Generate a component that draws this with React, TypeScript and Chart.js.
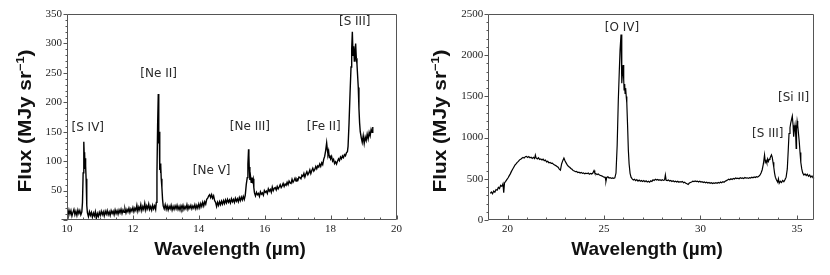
import React, { useEffect, useRef } from "react";
import { Chart, registerables } from "chart.js";

Chart.register(...registerables);

// ---------------- Left panel: 10–20 µm spectrum ----------------
const leftWavelength = [
  10.00, 10.03, 10.06, 10.09, 10.12, 10.15, 10.18, 10.21, 10.24, 10.27, 10.30, 10.33, 10.36, 10.39, 10.42, 10.45,
  10.47, 10.49, 10.51, 10.52, 10.53, 10.54, 10.55, 10.56, 10.57, 10.58, 10.60, 10.62, 10.65, 10.68, 10.71, 10.74,
  10.77, 10.80, 10.83, 10.86, 10.89, 10.92, 10.95, 10.98, 11.01, 11.04, 11.07, 11.10, 11.13, 11.16, 11.19, 11.22,
  11.25, 11.28, 11.31, 11.34, 11.37, 11.40, 11.43, 11.46, 11.49, 11.52, 11.55, 11.58, 11.61, 11.64, 11.67, 11.70,
  11.73, 11.76, 11.79, 11.82, 11.85, 11.88, 11.91, 11.94, 11.97, 12.00, 12.03, 12.06, 12.09, 12.12, 12.15, 12.18,
  12.21, 12.24, 12.27, 12.30, 12.33, 12.36, 12.39, 12.42, 12.45, 12.48, 12.51, 12.54, 12.57, 12.60, 12.63, 12.66,
  12.69, 12.71, 12.73, 12.75, 12.77, 12.78, 12.79, 12.80, 12.81, 12.82, 12.83, 12.84, 12.85, 12.86, 12.88, 12.90,
  12.92, 12.95, 12.98, 13.01, 13.04, 13.07, 13.10, 13.13, 13.16, 13.19, 13.22, 13.25, 13.28, 13.31, 13.34, 13.37,
  13.40, 13.43, 13.46, 13.49, 13.52, 13.55, 13.58, 13.61, 13.64, 13.67, 13.70, 13.73, 13.76, 13.79, 13.82, 13.85,
  13.88, 13.91, 13.94, 13.97, 14.00, 14.03, 14.06, 14.09, 14.12, 14.15, 14.18, 14.21, 14.24, 14.27, 14.30, 14.33,
  14.36, 14.39, 14.42, 14.45, 14.48, 14.51, 14.54, 14.57, 14.60, 14.63, 14.66, 14.69, 14.72, 14.75, 14.78, 14.81,
  14.84, 14.87, 14.90, 14.93, 14.96, 14.99, 15.02, 15.05, 15.08, 15.11, 15.14, 15.17, 15.20, 15.23, 15.26, 15.29,
  15.32, 15.35, 15.38, 15.41, 15.44, 15.47, 15.49, 15.51, 15.52, 15.53, 15.55, 15.57, 15.59, 15.61, 15.63, 15.65,
  15.67, 15.69, 15.72, 15.75, 15.78, 15.81, 15.84, 15.87, 15.90, 15.93, 15.96, 15.99, 16.02, 16.05, 16.08, 16.11,
  16.14, 16.17, 16.20, 16.23, 16.26, 16.29, 16.32, 16.35, 16.38, 16.41, 16.44, 16.47, 16.50, 16.53, 16.56, 16.59,
  16.62, 16.65, 16.68, 16.71, 16.74, 16.77, 16.80, 16.83, 16.86, 16.89, 16.92, 16.95, 16.98, 17.01, 17.04, 17.07,
  17.10, 17.13, 17.16, 17.19, 17.22, 17.25, 17.28, 17.31, 17.34, 17.37, 17.40, 17.43, 17.46, 17.49, 17.52, 17.55,
  17.58, 17.61, 17.64, 17.67, 17.70, 17.73, 17.76, 17.79, 17.82, 17.85, 17.88, 17.90, 17.92, 17.94, 17.96, 17.98,
  18.00, 18.03, 18.06, 18.09, 18.12, 18.15, 18.18, 18.21, 18.24, 18.27, 18.30, 18.33, 18.36, 18.39, 18.42, 18.45,
  18.48, 18.51, 18.53, 18.56, 18.59, 18.62, 18.64, 18.66, 18.68, 18.70, 18.72, 18.74, 18.76, 18.78, 18.80, 18.82,
  18.84, 18.86, 18.88, 18.90, 18.93, 18.96, 18.99, 19.02, 19.05, 19.08, 19.11, 19.14, 19.17, 19.20, 19.23, 19.26,
  19.28,
];
const leftFlux = [
  14, 8, 17, 10, 16, 7, 13, 18, 9, 15, 8, 17, 11, 16, 9, 14,
  30, 80, 133, 115, 95, 112, 88, 105, 92, 70, 25, 12, 6, 14, 8, 13,
  5, 12, 7, 14, 3, 11, 6, 13, 8, 15, 9, 14, 7, 15, 10, 16,
  9, 14, 8, 16, 11, 15, 9, 17, 11, 16, 10, 17, 12, 18, 11, 17,
  13, 19, 12, 18, 14, 20, 13, 19, 15, 21, 14, 20, 16, 25, 15, 22,
  17, 26, 16, 23, 18, 28, 17, 24, 19, 27, 18, 23, 17, 25, 19, 24,
  18, 30, 80, 160, 214, 190, 130, 150, 100, 85, 96, 80, 92, 70, 55, 35,
  24, 19, 26, 18, 24, 17, 23, 19, 25, 17, 23, 18, 24, 19, 25, 18,
  23, 17, 24, 19, 25, 18, 23, 19, 26, 18, 24, 20, 25, 19, 24, 20,
  26, 19, 25, 20, 27, 21, 28, 23, 30, 24, 31, 27, 35, 37, 41, 43,
  38, 43, 37, 41, 33, 30, 23, 30, 25, 31, 26, 32, 27, 33, 28, 34,
  29, 35, 30, 34, 29, 36, 31, 35, 30, 37, 32, 36, 31, 38, 33, 39,
  34, 40, 35, 42, 60, 72, 95, 120, 110, 90, 68, 74, 64, 72, 66, 70,
  55, 46, 41, 47, 43, 45, 40, 48, 44, 46, 42, 50, 47, 49, 45, 53,
  49, 52, 47, 56, 50, 54, 55, 51, 57, 53, 56, 60, 55, 58, 62, 57,
  61, 59, 64, 60, 66, 63, 62, 69, 64, 67, 71, 66, 70, 68, 73, 72,
  70, 76, 74, 79, 73, 78, 82, 77, 80, 85, 79, 84, 88, 83, 86, 91,
  87, 92, 90, 95, 91, 97, 94, 103, 108, 118, 131, 120, 112, 117, 106, 110,
  104, 108, 100, 103, 96, 99, 95, 100, 104, 101, 107, 104, 109, 106, 111, 109,
  114, 116, 125, 165, 215, 260, 290, 320, 280, 295, 270, 285, 300, 275, 265, 245,
  225, 190, 165, 150, 140, 132, 143, 130, 141, 135, 146, 138, 149, 143, 154, 149,
  158,
];
const leftTicksX = [10, 12, 14, 16, 18, 20];
const leftTicksY = [50, 100, 150, 200, 250, 300, 350];
const leftLineNames = ["[S IV]", "[Ne II]", "[Ne V]", "[Ne III]", "[Fe II]", "[S III]"];
const leftLineWavelength = [10.63, 12.78, 14.39, 15.55, 17.79, 18.73];
const leftLineFlux = [156, 248, 83, 158, 158, 336];

// ---------------- Right panel: 19–36 µm spectrum ----------------
const rightWavelength = [
  19.10, 19.16, 19.22, 19.28, 19.34, 19.40, 19.46, 19.52, 19.58, 19.64, 19.70, 19.76, 19.80, 19.84, 19.90, 19.96,
  20.02, 20.08, 20.14, 20.20, 20.26, 20.32, 20.38, 20.44, 20.50, 20.56, 20.62, 20.68, 20.74, 20.80, 20.86, 20.92,
  20.98, 21.04, 21.10, 21.16, 21.22, 21.28, 21.34, 21.40, 21.44, 21.48, 21.54, 21.60, 21.66, 21.72, 21.78, 21.84,
  21.90, 21.96, 22.02, 22.08, 22.14, 22.20, 22.26, 22.32, 22.38, 22.44, 22.50, 22.56, 22.62, 22.68, 22.74, 22.80,
  22.86, 22.92, 22.98, 23.04, 23.10, 23.16, 23.22, 23.28, 23.34, 23.40, 23.46, 23.52, 23.58, 23.64, 23.70, 23.76,
  23.82, 23.88, 23.94, 24.00, 24.06, 24.12, 24.18, 24.24, 24.30, 24.36, 24.42, 24.48, 24.52, 24.58, 24.64, 24.70,
  24.76, 24.82, 24.88, 24.94, 25.00, 25.06, 25.10, 25.14, 25.20, 25.26, 25.32, 25.38, 25.44, 25.50, 25.56, 25.62,
  25.68, 25.74, 25.79, 25.83, 25.88, 25.91, 25.93, 25.96, 25.99, 26.02, 26.04, 26.07, 26.09, 26.12, 26.15, 26.18,
  26.22, 26.26, 26.30, 26.35, 26.40, 26.46, 26.52, 26.58, 26.64, 26.70, 26.76, 26.82, 26.88, 26.94, 27.00, 27.06,
  27.12, 27.18, 27.24, 27.30, 27.36, 27.42, 27.48, 27.54, 27.60, 27.66, 27.72, 27.78, 27.84, 27.90, 27.96, 28.02,
  28.08, 28.14, 28.18, 28.22, 28.28, 28.34, 28.40, 28.46, 28.52, 28.58, 28.64, 28.70, 28.76, 28.82, 28.88, 28.94,
  29.00, 29.06, 29.12, 29.18, 29.24, 29.30, 29.36, 29.42, 29.48, 29.54, 29.60, 29.66, 29.72, 29.78, 29.84, 29.90,
  29.96, 30.02, 30.08, 30.14, 30.20, 30.26, 30.32, 30.38, 30.44, 30.50, 30.56, 30.62, 30.68, 30.74, 30.80, 30.86,
  30.92, 30.98, 31.04, 31.10, 31.16, 31.22, 31.28, 31.34, 31.40, 31.46, 31.52, 31.58, 31.64, 31.70, 31.76, 31.82,
  31.88, 31.94, 32.00, 32.06, 32.12, 32.18, 32.24, 32.30, 32.36, 32.42, 32.48, 32.54, 32.60, 32.66, 32.72, 32.78,
  32.84, 32.90, 32.96, 33.02, 33.08, 33.14, 33.20, 33.26, 33.32, 33.36, 33.40, 33.44, 33.48, 33.52, 33.56, 33.60,
  33.64, 33.68, 33.72, 33.76, 33.80, 33.84, 33.88, 33.94, 34.00, 34.04, 34.08, 34.14, 34.20, 34.26, 34.32, 34.38,
  34.44, 34.50, 34.55, 34.59, 34.64, 34.68, 34.72, 34.76, 34.80, 34.83, 34.86, 34.90, 34.93, 34.96, 34.98, 35.01,
  35.04, 35.08, 35.12, 35.16, 35.20, 35.25, 35.30, 35.36, 35.42, 35.48, 35.54, 35.60, 35.66, 35.72, 35.78, 35.84,
  35.88,
];
const rightFlux = [
  324, 340, 318, 352, 338, 370, 362, 395, 380, 420, 408, 440, 330, 450, 468, 490,
  510, 535, 560, 590, 615, 640, 665, 680, 700, 712, 730, 738, 750, 758, 752, 768,
  772, 760, 770, 755, 762, 748, 760, 745, 788, 752, 740, 755, 735, 742, 728, 738,
  720, 728, 705, 712, 695, 700, 688, 690, 675, 668, 660, 650, 640, 618, 605, 680,
  720, 752, 715, 690, 665, 650, 640, 625, 615, 600, 595, 586, 590, 575, 580, 570,
  578, 566, 572, 560, 568, 562, 570, 556, 566, 558, 570, 600, 572, 560, 552, 558,
  545, 540, 535, 528, 520, 518, 470, 516, 525, 510, 515, 505, 510, 506, 512, 570,
  900, 1456, 1800, 2063, 2250, 1850, 1659, 1800, 1881, 1700, 1578, 1650, 1537, 1600, 1500, 1420,
  1150, 850, 680, 566, 520, 500, 485, 495, 478, 490, 472, 485, 470, 480, 468, 478,
  465, 475, 462, 470, 458, 475, 468, 488, 480, 495, 485, 492, 482, 490, 478, 488,
  480, 486, 546, 482, 478, 486, 472, 480, 468, 476, 465, 472, 462, 470, 458, 466,
  460, 468, 452, 458, 445, 440, 432, 448, 455, 462, 470, 465, 474, 466, 472, 462,
  470, 460, 466, 455, 462, 452, 458, 448, 455, 445, 452, 442, 450, 445, 452, 446,
  455, 448, 460, 452, 465, 458, 470, 478, 486, 495, 488, 500, 492, 505, 498, 510,
  502, 508, 500, 512, 505, 510, 502, 515, 508, 512, 505, 515, 510, 520, 512, 522,
  515, 525, 520, 530, 545, 570, 610, 680, 790, 700, 720, 690, 740, 710, 735, 745,
  770, 790, 760, 700, 640, 570, 520, 485, 460, 500, 445, 470, 455, 480, 465, 490,
  520, 620, 850, 1050, 1120, 1180, 1220, 1260, 1150, 1010, 1080, 1150, 1060, 870, 1100, 1200,
  1150, 1050, 950, 820, 700, 620, 570, 545, 560, 540, 555, 530, 545, 520, 535, 510,
  515,
];
const rightTicksX = [20, 25, 30, 35];
const rightTicksY = [0, 500, 1000, 1500, 2000, 2500];
const rightLineNames = ["[O IV]", "[S III]", "[Si II]"];
const rightLineWavelength = [25.93, 33.49, 34.83];
const rightLineFlux = [2330, 1044, 1487];

// ---------------- helpers / plugins ----------------
const TICK_FONT = { family: "'Liberation Serif', 'Times New Roman', serif", size: 11 };
const TITLE_FAMILY = "'Liberation Sans', Arial, Helvetica, sans-serif";

const decorPlugin = {
  id: "decor",
  afterDraw(chart: any, _args: any, opts: any) {
    const { ctx, chartArea: a, scales } = chart;
    const x = scales.x;
    const y = scales.y;
    ctx.save();
    // frame
    ctx.strokeStyle = "#555";
    ctx.lineWidth = 1;
    const L = Math.round(a.left) + 0.5;
    const R = Math.round(a.right) - 0.5;
    const T = Math.round(a.top) + 0.5;
    const B = Math.round(a.bottom) - 0.5;
    ctx.beginPath();
    ctx.moveTo(L, T);
    ctx.lineTo(R, T);
    ctx.lineTo(R, B);
    ctx.lineTo(L - (opts.extendLeft || 0), B);
    ctx.moveTo(L, B);
    ctx.lineTo(L, T);
    ctx.stroke();

    // x ticks (inside, upward)
    ctx.beginPath();
    for (let v = x.min; v <= x.max + 1e-9; v += opts.xMinor) {
      const vv = Math.round(v / opts.xMinor) * opts.xMinor;
      if (vv < x.min - 1e-9 || vv > x.max + 1e-9) continue;
      const px = Math.round(x.getPixelForValue(vv)) + 0.5;
      const isMajor = Math.abs(vv / opts.xMajor - Math.round(vv / opts.xMajor)) < 1e-6;
      const len = isMajor ? 4 : 2;
      ctx.moveTo(px, B);
      ctx.lineTo(px, B - len);
    }
    // y ticks (outside, leftward)
    for (let v = 0; v <= y.max + 1e-9; v += opts.yMinor) {
      if (v < y.min - 1e-9) continue;
      const py = Math.round(y.getPixelForValue(v)) + 0.5;
      const isMajor = Math.abs(v / opts.yMajor - Math.round(v / opts.yMajor)) < 1e-6;
      const len = isMajor ? 4 : 2;
      ctx.moveTo(L, py);
      ctx.lineTo(L - len, py);
    }
    ctx.stroke();

    // line annotations
    ctx.fillStyle = "#2a2a2a";
    ctx.font = "12px 'DejaVu Sans', Verdana, sans-serif";
    ctx.textAlign = "center";
    ctx.textBaseline = "middle";
    const names: string[] = opts.names;
    for (let i = 0; i < names.length; i++) {
      ctx.fillText(names[i], x.getPixelForValue(opts.lx[i]), y.getPixelForValue(opts.ly[i]));
    }

    // x title
    ctx.fillStyle = "#111";
    ctx.font = `bold 19px ${TITLE_FAMILY}`;
    ctx.textAlign = "center";
    ctx.textBaseline = "alphabetic";
    ctx.fillText("Wavelength (\u00b5m)", opts.xTitleX, 255);

    // y title (rotated, with superscript)
    const size = 18;
    const mainFont = `bold ${size}px ${TITLE_FAMILY}`;
    const supFont = `bold ${Math.round(size * 0.62)}px ${TITLE_FAMILY}`;
    const parts: [string, string, number][] = [
      ["Flux (MJy sr", mainFont, 0],
      ["\u22121", supFont, -size * 0.42],
      [")", mainFont, 0],
    ];
    let total = 0;
    const widths: number[] = [];
    for (const [t, f] of parts) {
      ctx.font = f;
      const w = ctx.measureText(t).width;
      widths.push(w);
      total += w;
    }
    const target = 143;
    const s = target / total;
    ctx.translate(opts.yTitleX, opts.yTitleY);
    ctx.rotate(-Math.PI / 2);
    ctx.scale(s, 1);
    ctx.textAlign = "left";
    let cx = -total / 2;
    const capHalf = size * 0.36;
    parts.forEach(([t, f, dy], i) => {
      ctx.font = f;
      ctx.fillText(t, cx, capHalf + dy);
      cx += widths[i];
    });
    ctx.restore();
  },
};

function makeConfig(
  xs: number[],
  ys: number[],
  xMin: number,
  xMax: number,
  yMax: number,
  xTicks: number[],
  yTicks: number[],
  yWidth: number,
  padRight: number,
  lineWidth: number,
  decor: any
): any {
  const points = xs.map((w, i) => ({ x: w, y: ys[i] }));
  const plain = (v: any) => String(v);
  return {
    type: "line",
    data: {
      datasets: [
        {
          data: points,
          borderColor: "#000",
          borderWidth: lineWidth,
          pointRadius: 0,
          tension: 0,
          fill: false,
        },
      ],
    },
    options: {
      animation: false,
      responsive: false,
      maintainAspectRatio: false,
      layout: { padding: { left: 0, top: 14, right: padRight, bottom: 0 } },
      plugins: {
        legend: { display: false },
        tooltip: { enabled: false },
        decor,
      },
      scales: {
        x: {
          type: "linear",
          min: xMin,
          max: xMax,
          grid: { display: false, drawTicks: false },
          border: { display: false },
          ticks: { font: TICK_FONT, color: "#222", padding: 3, maxRotation: 0, autoSkip: false, callback: plain },
          afterBuildTicks: (sc: any) => {
            sc.ticks = xTicks.map((v) => ({ value: v }));
          },
          afterFit: (sc: any) => {
            sc.height = 55;
          },
        },
        y: {
          type: "linear",
          min: 0,
          max: yMax,
          grid: { display: false, drawTicks: false },
          border: { display: false },
          ticks: { font: TICK_FONT, color: "#222", padding: 5, autoSkip: false, callback: plain },
          afterBuildTicks: (sc: any) => {
            sc.ticks = yTicks.map((v) => ({ value: v }));
          },
          afterFit: (sc: any) => {
            sc.width = yWidth;
          },
        },
      },
    },
    plugins: [decorPlugin],
  };
}

function Panel(props: { config: any; left: number }) {
  const ref = useRef<HTMLCanvasElement | null>(null);
  useEffect(() => {
    if (!ref.current) return;
    const chart = new Chart(ref.current, props.config);
    return () => chart.destroy();
  }, []);
  return (
    <canvas
      ref={ref}
      width={415}
      height={275}
      style={{ position: "absolute", left: props.left, top: 0, width: 415, height: 275 }}
    />
  );
}

export default function App() {
  const leftConfig = makeConfig(
    leftWavelength, leftFlux, 10, 20, 350, leftTicksX, leftTicksY, 67, 18.5, 1.4,
    {
      xMajor: 2, xMinor: 0.5, yMajor: 50, yMinor: 10, extendLeft: 6,
      names: leftLineNames, lx: leftLineWavelength, ly: leftLineFlux,
      xTitleX: 230, yTitleX: 25, yTitleY: 121,
    }
  );
  const rightConfig = makeConfig(
    rightWavelength, rightFlux, 19, 35.9, 2500, rightTicksX, rightTicksY, 73.3, 15.7, 1.2,
    {
      xMajor: 5, xMinor: 1, yMajor: 500, yMinor: 100, extendLeft: 0,
      names: rightLineNames, lx: rightLineWavelength, ly: rightLineFlux,
      xTitleX: 232, yTitleX: 25, yTitleY: 121,
    }
  );
  return (
    <div style={{ position: "fixed", left: 0, top: 0, width: 830, height: 275, background: "#fff" }}>
      <Panel config={leftConfig} left={0} />
      <Panel config={rightConfig} left={415} />
    </div>
  );
}
